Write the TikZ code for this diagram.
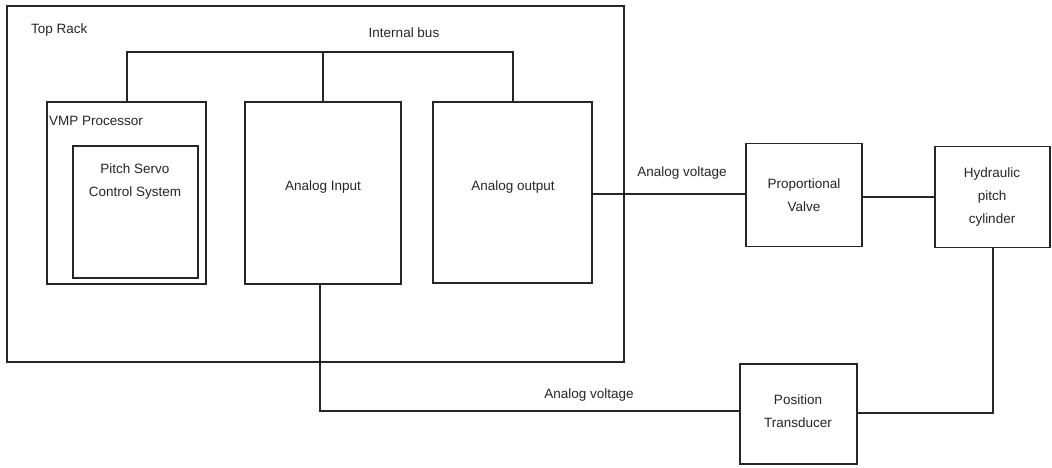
\documentclass[tikz,border=0pt]{standalone}
\usepackage{fontspec}
\setmainfont{Liberation Sans}
\begin{document}
\begin{tikzpicture}[x=1pt,y=-1pt,
  box/.style={draw=black!85,line width=1.4pt,rectangle,inner sep=0pt},
  wire/.style={draw=black!85,line width=1.4pt},
  txt/.style={font=\fontsize{13.5}{23}\selectfont,align=center,inner sep=0pt,text=black!85}]
\useasboundingbox[fill=white] (0,0) rectangle (1052,467);
% boxes
\node[box,minimum width=617pt,minimum height=356pt] (rack) at (315.5,184) {};
\node[box,minimum width=159pt,minimum height=182pt] (vmp) at (126.5,193) {};
\node[box,minimum width=125pt,minimum height=132pt] (pss) at (135.5,212) {};
\node[box,minimum width=156pt,minimum height=182pt] (ain) at (323,193) {};
\node[box,minimum width=159pt,minimum height=181pt] (aout) at (512.5,192.5) {};
\node[box,minimum width=116pt,minimum height=103pt] (pv) at (804,195) {};
\node[box,minimum width=115pt,minimum height=101pt] (hyd) at (992.5,197) {};
\node[box,minimum width=117pt,minimum height=100pt] (pt) at (798.5,414) {};
% texts
\node[txt,anchor=west] (trl) at (31,30) {Top Rack};
\node[txt] (ibl) at (404,33) {Internal bus};
\node[txt,anchor=west] (vmpl) at (49,121) {VMP Processor};
\node[txt] (pssl) at (135,182) {Pitch Servo\\Control System};
\node[txt] (ainl) at (323,187) {Analog Input};
\node[txt] (aoutl) at (513,187) {Analog output};
\node[txt] (pvl) at (804,195) {Proportional\\Valve};
\node[txt] (hydl) at (992,197) {Hydraulic\\pitch\\cylinder};
\node[txt] (ptl) at (798,411) {Position\\Transducer};
\node[txt] (av1) at (682,173) {Analog voltage};
\node[txt] (av2) at (589,395) {Analog voltage};
% bus
\coordinate (b1) at (127,52);
\coordinate (b3) at (513,52);
\draw[wire] (vmp.north -| b1) -- (b1) -- (b3) -- (aout.north -| b3);
\draw[wire] (ain.north) -- (ain.north |- b1);
% connections
\draw[wire] (aout.east |- 0,194) -- (pv.west |- 0,194);
\draw[wire] (pv.east |- 0,197) -- (hyd.west |- 0,197);
\coordinate (c1) at (993,413);
\draw[wire] (hyd.south -| c1) -- (c1) -- (pt.east |- c1);
\coordinate (c2) at (320,411);
\draw[wire] (ain.south -| c2) -- (c2) -- (pt.west |- c2);
\end{tikzpicture}
\end{document}
